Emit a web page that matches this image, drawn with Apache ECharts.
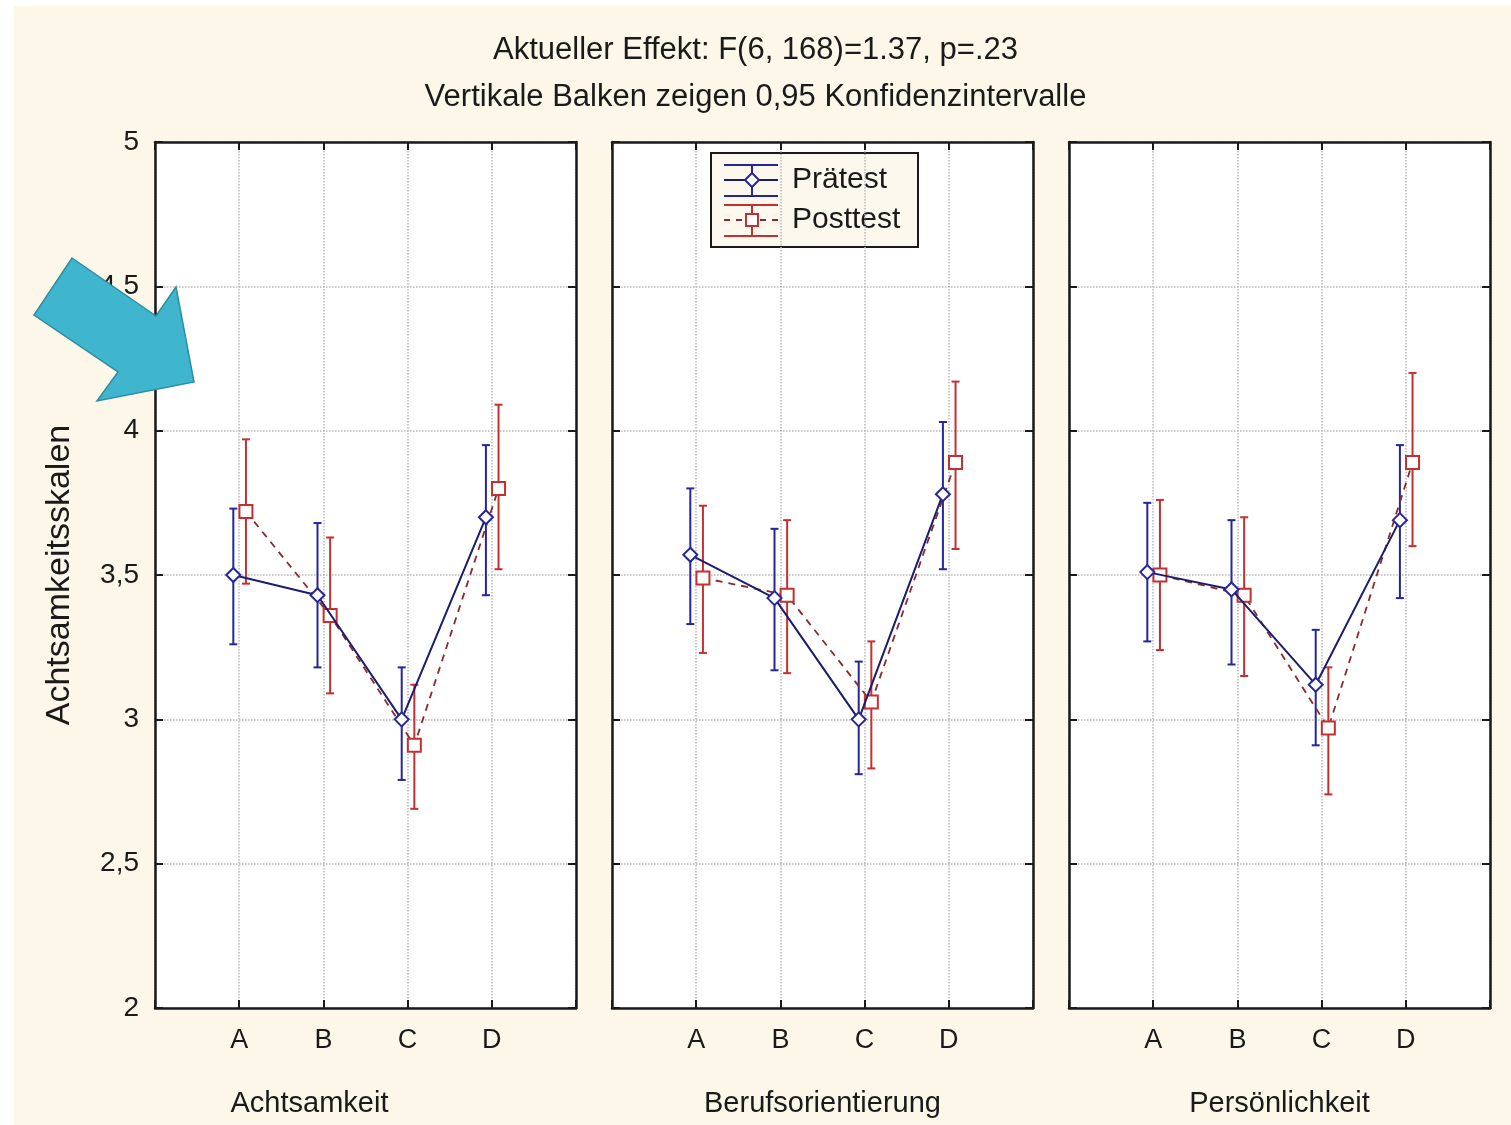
<!DOCTYPE html>
<html lang="de">
<head>
  <meta charset="utf-8" />
  <title>Achtsamkeitsskalen</title>
  <script src="https://cdn.jsdelivr.net/npm/echarts@6/dist/echarts.min.js"></script>
  <style>
    html, body { margin: 0; padding: 0; background: #fff; }
    #chart { width: 1511px; height: 1125px; }
  </style>
</head>
<body>
  <div id="chart"></div>
  <script>
    // Daten
    const categories = ['A', 'B', 'C', 'D'];
    const panelNames = ['Achtsamkeit', 'Berufsorientierung', 'Persönlichkeit'];
    const yTickLabels = ['2', '2,5', '3', '3,5', '4', '4,5', '5'];

    const praeMean = [[3.50, 3.43, 3.00, 3.70], [3.57, 3.42, 3.00, 3.78], [3.51, 3.45, 3.12, 3.69]];
    const praeLow  = [[3.26, 3.18, 2.79, 3.43], [3.33, 3.17, 2.81, 3.52], [3.27, 3.19, 2.91, 3.42]];
    const praeHigh = [[3.73, 3.68, 3.18, 3.95], [3.80, 3.66, 3.20, 4.03], [3.75, 3.69, 3.31, 3.95]];

    const postMean = [[3.72, 3.36, 2.91, 3.80], [3.49, 3.43, 3.06, 3.89], [3.50, 3.43, 2.97, 3.89]];
    const postLow  = [[3.47, 3.09, 2.69, 3.52], [3.23, 3.16, 2.83, 3.59], [3.24, 3.15, 2.74, 3.60]];
    const postHigh = [[3.97, 3.63, 3.12, 4.09], [3.74, 3.69, 3.27, 4.17], [3.76, 3.70, 3.18, 4.20]];

    const FONT = 'Liberation Sans';
    const TXT = '#1a1a1a';
    const praeShift = -0.07, postShift = 0.08;
    const praeBar = '#26269a', praeLine = '#1c1c6e';
    const postBar = '#c43030', postLine = '#8a2a2a';

    const gridLefts = [155, 612, 1069];
    const namePads = [[0, 112, 0, 0], 0, 0];

    var grids = [], xAxes = [], yAxes = [], series = [];

    const tick = { show: true, inside: true, length: 8, lineStyle: { color: '#1a1a1a', width: 2 } };
    const frame = { show: true, onZero: false, lineStyle: { color: '#1a1a1a', width: 2.5 } };
    const dots = { show: true, lineStyle: { color: '#b8b8b8', type: 'dotted', width: 1.5 } };

    function errorBars(color) {
      return function (params, api) {
        var lo = api.coord([api.value(0), api.value(1)]);
        var hi = api.coord([api.value(0), api.value(2)]);
        var st = { stroke: color, lineWidth: 2 };
        return { type: 'group', children: [
          { type: 'line', shape: { x1: lo[0], y1: lo[1], x2: hi[0], y2: hi[1] }, style: st },
          { type: 'line', shape: { x1: lo[0] - 4, y1: lo[1], x2: lo[0] + 4, y2: lo[1] }, style: st },
          { type: 'line', shape: { x1: hi[0] - 4, y1: hi[1], x2: hi[0] + 4, y2: hi[1] }, style: st }
        ]};
      };
    }

    for (let p = 0; p < 3; p++) {
      grids.push({ left: gridLefts[p], width: 421, top: 142, height: 866,
        show: true, backgroundColor: '#fff', borderWidth: 0 });

      // x unten
      xAxes.push({ gridIndex: p, type: 'value', min: 0, max: 5, interval: 1, position: 'bottom',
        axisLine: frame, axisTick: tick,
        axisLabel: { fontFamily: FONT, fontSize: 27, color: TXT, margin: 19,
          formatter: v => categories[v - 1] || '' },
        splitLine: dots,
        name: panelNames[p], nameLocation: 'middle', nameGap: 81,
        nameTextStyle: { fontFamily: FONT, fontSize: 29, color: TXT, padding: namePads[p] } });
      // x oben (nur Ticks)
      xAxes.push({ gridIndex: p, type: 'value', min: 0, max: 5, interval: 1, position: 'top',
        axisLine: frame, axisLabel: { show: false }, splitLine: { show: false },
        axisTick: tick });

      // y links
      yAxes.push({ gridIndex: p, type: 'value', min: 2, max: 5, interval: 0.5, position: 'left',
        axisLine: frame, axisTick: tick,
        axisLabel: { show: p === 0, fontFamily: FONT, fontSize: 28, color: TXT, margin: 16,
          formatter: v => yTickLabels[Math.round((v - 2) * 2)] },
        splitLine: dots,
        name: p === 0 ? 'Achtsamkeitsskalen' : '', nameLocation: 'middle', nameGap: 78,
        nameTextStyle: { fontFamily: FONT, fontSize: 34, color: TXT } });
      // y rechts (nur Ticks)
      yAxes.push({ gridIndex: p, type: 'value', min: 2, max: 5, interval: 0.5, position: 'right',
        axisLine: frame, axisLabel: { show: false }, splitLine: { show: false },
        axisTick: tick });

      const xi = p * 2, yi = p * 2;

      series.push({ type: 'custom', xAxisIndex: xi, yAxisIndex: yi, z: 3,
        renderItem: errorBars(praeBar),
        data: categories.map((c, i) => [i + 1 + praeShift, praeLow[p][i], praeHigh[p][i]]) });
      series.push({ type: 'custom', xAxisIndex: xi, yAxisIndex: yi, z: 3,
        renderItem: errorBars(postBar),
        data: categories.map((c, i) => [i + 1 + postShift, postLow[p][i], postHigh[p][i]]) });

      series.push({ name: 'Prätest', type: 'line', xAxisIndex: xi, yAxisIndex: yi, z: 5,
        symbol: 'emptyDiamond', symbolSize: 14, showAllSymbol: true,
        lineStyle: { color: praeLine, width: 2 },
        itemStyle: { color: praeBar, borderWidth: 2 },
        data: categories.map((c, i) => [i + 1 + praeShift, praeMean[p][i]]) });
      series.push({ name: 'Posttest', type: 'line', xAxisIndex: xi, yAxisIndex: yi, z: 4,
        symbol: 'emptyRect', symbolSize: 13, showAllSymbol: true,
        lineStyle: { color: postLine, width: 1.8, type: [7, 6] },
        itemStyle: { color: postBar, borderWidth: 2 },
        data: categories.map((c, i) => [i + 1 + postShift, postMean[p][i]]) });
    }

    // Legende als Grafik
    function legendIcon(y0, color, lineColor, dashed, square) {
      const st = { stroke: color, lineWidth: 2 };
      const kids = [
        { type: 'line', shape: { x1: 724, y1: y0 - 15, x2: 778, y2: y0 - 15 }, style: st },
        { type: 'line', shape: { x1: 724, y1: y0 + 16, x2: 778, y2: y0 + 16 }, style: st },
        { type: 'line', shape: { x1: 752, y1: y0 - 15, x2: 752, y2: y0 + 16 }, style: st },
        { type: 'line', shape: { x1: 724, y1: y0, x2: 778, y2: y0 },
          style: { stroke: lineColor, lineWidth: 2, lineDash: dashed ? [6, 6] : null } }
      ];
      if (square) {
        kids.push({ type: 'rect', shape: { x: 746, y: y0 - 6, width: 12, height: 12 },
          style: { fill: '#fff', stroke: color, lineWidth: 2 } });
      } else {
        kids.push({ type: 'polygon', shape: { points: [[752, y0 - 7], [759, y0], [752, y0 + 7], [745, y0]] },
          style: { fill: '#fff', stroke: color, lineWidth: 2 } });
      }
      return kids;
    }

    var chart = echarts.init(document.getElementById('chart'));
    chart.setOption({
      animation: false,
      backgroundColor: '#fff',
      title: [
        { text: 'Aktueller Effekt: F(6, 168)=1.37, p=.23', left: 'center', top: 30,
          textStyle: { fontFamily: FONT, fontSize: 31, fontWeight: 'normal', color: TXT } },
        { text: 'Vertikale Balken zeigen 0,95 Konfidenzintervalle', left: 'center', top: 77,
          textStyle: { fontFamily: FONT, fontSize: 31, fontWeight: 'normal', color: TXT } }
      ],
      grid: grids,
      xAxis: xAxes,
      yAxis: yAxes,
      series: series,
      graphic: [
        { type: 'rect', z: -10, silent: true, shape: { x: 14, y: 6, width: 1497, height: 1119 },
          style: { fill: '#fdf7e9' } },
        { type: 'group', z: 100, children: [
          { type: 'rect', shape: { x: 711, y: 153, width: 207, height: 94 },
            style: { fill: '#fcf8ee', stroke: '#1a1a1a', lineWidth: 2 } }
        ].concat(legendIcon(180, praeBar, praeLine, false, false))
         .concat(legendIcon(220, postBar, postLine, true, true))
         .concat([
          { type: 'text', style: { x: 792, y: 180, text: 'Prätest', fontFamily: FONT, fontSize: 30,
            fill: TXT, verticalAlign: 'middle' } },
          { type: 'text', style: { x: 792, y: 220, text: 'Posttest', fontFamily: FONT, fontSize: 30,
            fill: TXT, verticalAlign: 'middle' } }
        ]) },
        { type: 'polygon', z: 100, shape: { points: [[72, 258], [156, 316], [176, 287], [194, 382],
            [97, 401], [118, 372], [34, 315]] },
          style: { fill: '#3fb6cd', stroke: '#2b8ea4', lineWidth: 1.5 } }
      ]
    });
  </script>
</body>
</html>
